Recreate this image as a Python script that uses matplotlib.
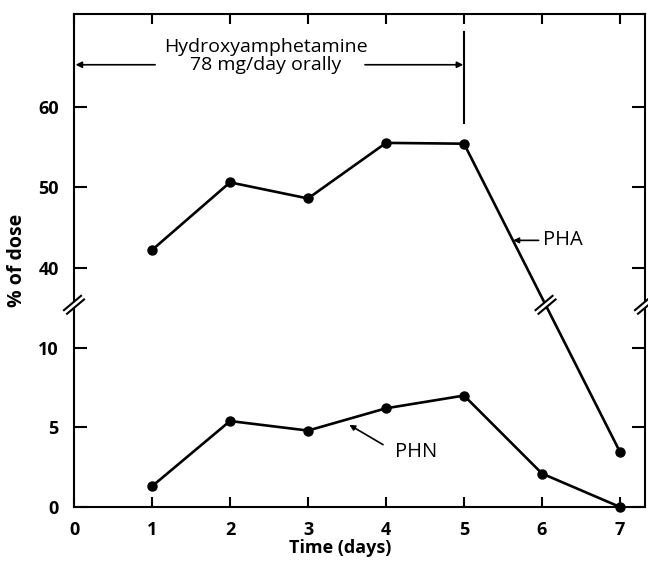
import numpy as np
import matplotlib
matplotlib.use('Agg')
import matplotlib.pyplot as plt
from matplotlib.lines import Line2D
from matplotlib.transforms import Affine2D, ScaledTranslation

plt.rcParams['font.family'] = ['Open Sans', 'DejaVu Sans']

# ---- data ----
pha_days = [1, 2, 3, 4, 5, 7]
pha_vals = [42.2, 50.6, 48.6, 55.5, 55.4, 3.45]
phn_days = [1, 2, 3, 4, 5, 6, 7]
phn_vals = [1.3, 5.4, 4.8, 6.2, 7.0, 2.1, 0.0]
x_ticks = [0, 1, 2, 3, 4, 5, 6, 7]
y_ticks = [0, 5, 10, 40, 50, 60]
dose_start, dose_end = 0, 5
drug_label = "Hydroxyamphetamine\n78 mg/day orally"

# ---- broken y scale ----
B1, B2, R = 12.7, 35.4, 0.506


def fwd(v):
    v = np.asarray(v, dtype=float)
    return np.where(v <= B1, v, np.where(v >= B2, B1 + (v - B2) * R, B1))


def inv(u):
    u = np.asarray(u, dtype=float)
    return np.where(u <= B1, u, B2 + (u - B1) / R)


fig = plt.figure(figsize=(6.48, 5.61), dpi=100)
ax = fig.add_axes([74 / 648, 54 / 561, 571 / 648, 493 / 561])
ax.set_yscale('function', functions=(fwd, inv))

lw = 1.9
ax.plot(pha_days, pha_vals, color='black', lw=lw, marker='o', ms=6.5,
        clip_on=False, zorder=3)
ax.plot(phn_days, phn_vals, color='black', lw=lw, marker='o', ms=6.5,
        clip_on=False, zorder=3)

ax.set_xlim(0, 7.32)
ax.set_ylim(0, 71.5)
ax.set_xticks(x_ticks)
ax.set_xticklabels([str(t) for t in x_ticks])
ax.set_yticks(y_ticks)
ax.set_yticklabels([str(t) for t in y_ticks])
ax.minorticks_off()

for s in ax.spines.values():
    s.set_linewidth(1.5)
ax.tick_params(axis='both', direction='in', top=True, right=True, width=1.5,
               labelsize=13)
ax.tick_params(axis='x', length=7.5, pad=10)
ax.tick_params(axis='y', length=9.5, pad=11)
for lab in ax.get_xticklabels() + ax.get_yticklabels():
    lab.set_fontweight('bold')

ax.set_xlabel('Time (days)', fontsize=13, fontweight='bold')
ax.xaxis.set_label_coords(0.466, -0.064)
ax.set_ylabel('% of dose', fontsize=14, fontweight='bold')
ax.yaxis.set_label_coords(-0.083, 0.50)

# ---- treatment annotation ----
arr_y = 65.2
ax.text(2.46, 66.3, drug_label, ha='center', va='center', fontsize=14,
        linespacing=1.05)
ap = dict(arrowstyle='-|>', lw=1.2, color='black', mutation_scale=9,
          shrinkA=0, shrinkB=0)
ax.annotate('', xy=(dose_start + 0.02, arr_y), xytext=(1.04, arr_y), arrowprops=ap)
ax.annotate('', xy=(dose_end - 0.01, arr_y), xytext=(3.73, arr_y), arrowprops=ap)
ax.plot([dose_end, dose_end], [58.0, 69.3], color='black', lw=1.5)

# ---- series labels ----
ax.annotate('PHA', xy=(5.63, 43.4), xytext=(6.01, 43.4), fontsize=14.5,
            va='center', ha='left',
            arrowprops=dict(arrowstyle='-|>', lw=1.2, color='black',
                            mutation_scale=8, shrinkA=1, shrinkB=0))
ax.annotate('PHN', xy=(3.53, 5.16), xytext=(4.12, 3.46), fontsize=14.5,
            va='center', ha='left',
            arrowprops=dict(arrowstyle='-|>', lw=1.2, color='black',
                            mutation_scale=8, shrinkA=8, shrinkB=0,
                            relpos=(0, 0.5)))


# ---- break marks ----
def break_mark(x, y, angle=40, half_len=8, sep=1.7, blw=1.5):
    tr = (Affine2D().scale(1 / 72.) + fig.dpi_scale_trans +
          ScaledTranslation(x, y, ax.transData))
    a = np.radians(angle)
    d = np.array([np.cos(a), np.sin(a)])
    n = np.array([-np.sin(a), np.cos(a)])
    g = Line2D([-0.75 * half_len * d[0], 0.75 * half_len * d[0]],
               [-0.75 * half_len * d[1], 0.75 * half_len * d[1]],
               color='white', lw=2 * sep + 0.6, transform=tr, clip_on=False,
               zorder=5, solid_capstyle='butt')
    ax.add_artist(g)
    for sgn in (1, -1):
        p0 = -half_len * d + sgn * sep * n
        p1 = half_len * d + sgn * sep * n
        ln = Line2D([p0[0], p1[0]], [p0[1], p1[1]], color='black', lw=blw,
                    transform=tr, clip_on=False, zorder=6)
        ax.add_artist(ln)


xmax = ax.get_xlim()[1]
break_mark(0, B1)
break_mark(xmax, B1)
f5 = float(fwd(pha_vals[-2]))
f7 = float(fwd(pha_vals[-1]))
xb = pha_days[-2] + (pha_days[-1] - pha_days[-2]) * (f5 - B1) / (f5 - f7)
break_mark(xb, B1)

fig.savefig('out.png', dpi=100, facecolor='white')
